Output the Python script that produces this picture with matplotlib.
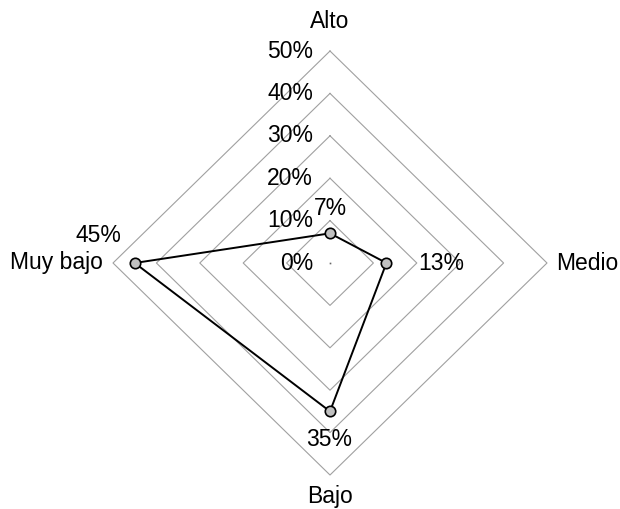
import numpy as np
import matplotlib
matplotlib.use("Agg")
import matplotlib.pyplot as plt

plt.rcParams['font.family'] = ['Liberation Sans', 'DejaVu Sans']

categories = ["Alto", "Medio", "Bajo", "Muy bajo"]
values = [7, 13, 35, 45]
value_labels = ["7%", "13%", "35%", "45%"]
grid_levels = [10, 20, 30, 40, 50]
tick_labels = ["0%", "10%", "20%", "30%", "40%", "50%"]

# angles: Alto top, Medio right, Bajo bottom, Muy bajo left (clockwise)
angles = np.pi / 2 - np.arange(len(categories)) * 2 * np.pi / len(categories)

def to_xy(r, ang):
    return r * np.cos(ang), r * np.sin(ang)

W, H = 620, 509
fig = plt.figure(figsize=(W / 100, H / 100), dpi=100)
ax = fig.add_axes([0, 0, 1, 1])
sx = 217 / 50.0
sy = 212 / 50.0
cx, cy = 330, 263
ax.set_xlim(-cx / sx, (W - cx) / sx)
ax.set_ylim(-(H - cy) / sy, cy / sy)
ax.axis('off')

closed = np.append(angles, angles[0])
for lev in grid_levels:
    gx, gy = to_xy(lev, closed)
    ax.plot(gx, gy, color='#a0a0a0', lw=0.8, zorder=1)
ax.plot([0], [0], marker='s', ms=1.2, color='#666666', mec='none', zorder=1)

vx, vy = to_xy(np.append(values, values[0]), closed)
ax.plot(vx, vy, color='black', lw=1.4, zorder=3)
ax.plot(vx[:-1], vy[:-1], ls='none', marker='o', ms=7.5, mfc='#c0c0c0',
        mec='black', mew=1.2, zorder=4)

fs = 16.5
# radial tick labels along top axis
for i, t in enumerate(tick_labels):
    r = i * 10
    ax.annotate(t, (0, r), xytext=(-17, 0), textcoords='offset pixels',
                ha='right', va='center', fontsize=fs)

# category labels
cat_offsets = [((0, 29), 'center', 'center'),
               ((9, 0), 'left', 'center'),
               ((0, -22), 'center', 'center'),
               ((-10, 0), 'right', 'center')]
for c, a, (off, ha, va) in zip(categories, angles, cat_offsets):
    x, y = to_xy(50, a)
    ax.annotate(c, (x, y), xytext=off, textcoords='offset pixels',
                ha=ha, va=va, fontsize=fs)

# value labels
val_offsets = [((0, 25), 'center'), ((55, 0), 'center'),
               ((-1, -28), 'center'), ((-36, 27), 'center')]
for lab, v, a, (off, ha) in zip(value_labels, values, angles, val_offsets):
    x, y = to_xy(v, a)
    ax.annotate(lab, (x, y), xytext=off, textcoords='offset pixels',
                ha=ha, va='center', fontsize=fs)

fig.savefig("out.png", dpi=100)
